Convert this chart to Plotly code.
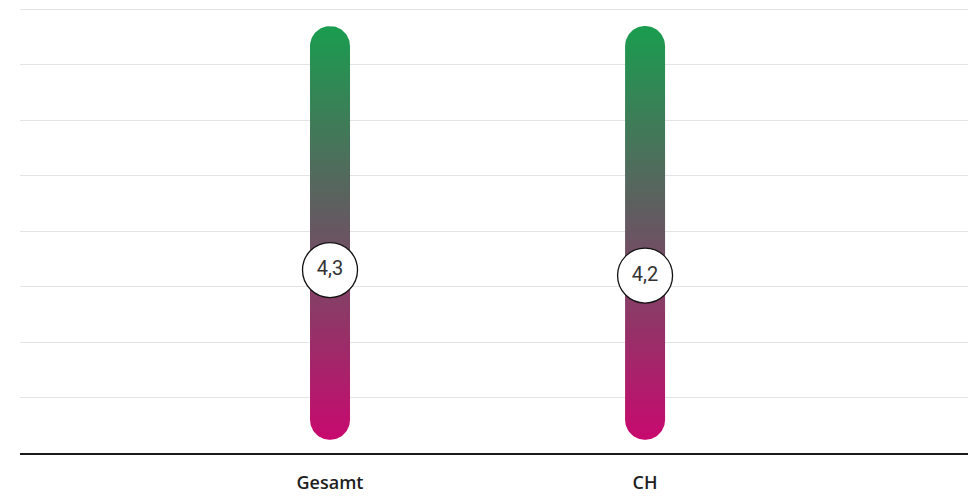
import numpy as np
import plotly.graph_objects as go

# Data
categories = ["Gesamt", "CH"]
values = [4.3, 4.2]
scale_low = 1.24   # bottom end of each gradient bar
scale_high = 8.70  # top end of each gradient bar
y_ticks = [1, 2, 3, 4, 5, 6, 7, 8, 9]

# Geometry / style
W, H = 977, 496
margin = dict(l=20, r=9, t=5, b=43)
x_range = [-0.984, 2.025]
y_range = [1, 9.08]
bar_px = 40          # bar width in pixels
bubble_px = 55       # value bubble diameter in pixels

GREEN = "#1a9d4f"
MID = "#685662"
MAGENTA = "#c8096f"

plot_w = W - margin["l"] - margin["r"]
plot_h = H - margin["t"] - margin["b"]
px_per_x = plot_w / (x_range[1] - x_range[0])
px_per_y = plot_h / (y_range[1] - y_range[0])

fig = go.Figure()

r_x = (bar_px / 2) / px_per_x
r_y = (bar_px / 2) / px_per_y
t_top = np.linspace(0, np.pi, 40)
t_bot = np.linspace(np.pi, 2 * np.pi, 40)

for i, cat in enumerate(categories):
    # rounded capsule outline: top semicircle then bottom semicircle
    top_c = scale_high - r_y
    bot_c = scale_low + r_y
    xs = np.concatenate([i + r_x * np.cos(t_top), i + r_x * np.cos(t_bot), [i + r_x]])
    ys = np.concatenate([top_c + r_y * np.sin(t_top), bot_c + r_y * np.sin(t_bot), [top_c]])
    fig.add_trace(go.Scatter(
        x=xs, y=ys, mode="lines", fill="toself",
        line=dict(width=0, color="rgba(0,0,0,0)"),
        fillgradient=dict(
            type="vertical",
            start=scale_low, stop=scale_high,
            colorscale=[[0, MAGENTA], [0.5, MID], [1, GREEN]],
        ),
        hoverinfo="skip", showlegend=False,
    ))

fig.add_trace(go.Scatter(
    x=list(range(len(categories))), y=values,
    mode="markers+text",
    marker=dict(size=bubble_px, color="white", line=dict(color="#111111", width=1.3)),
    text=[f"{v:.1f}".replace(".", ",") for v in values],
    textposition="middle center",
    textfont=dict(family="Roboto, sans-serif", size=20, color="#333333", weight=400),
    hoverinfo="skip", showlegend=False,
))

fig.update_layout(
    width=W, height=H, margin=margin,
    paper_bgcolor="white", plot_bgcolor="white",
    showlegend=False,
)
fig.update_xaxes(
    range=x_range, tickmode="array",
    tickvals=list(range(len(categories))), ticktext=categories,
    showgrid=False, zeroline=False, automargin=False,
    showline=True, linecolor="#1a1a1a", linewidth=1.5,
    ticks="", ticklabelstandoff=13,
    tickfont=dict(family="Open Sans, sans-serif", size=18, color="#1e1e1e", weight=600),
)
fig.update_yaxes(
    range=y_range, tickmode="array", tickvals=y_ticks, automargin=False,
    showticklabels=False, showgrid=True, gridcolor="#e4e4e4", gridwidth=1,
    zeroline=False, showline=False,
)

fig.write_html("out.html")
